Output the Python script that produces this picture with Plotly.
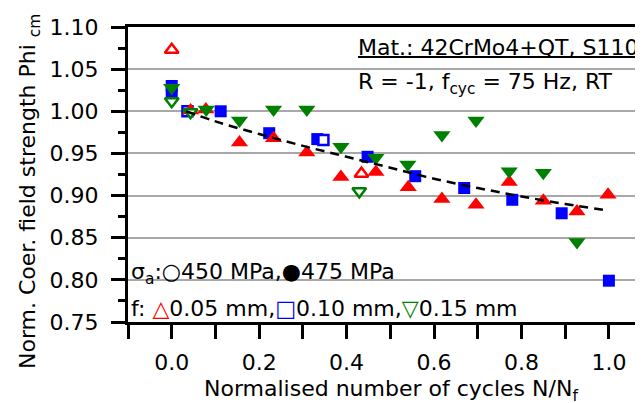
import plotly.graph_objects as go

# ---------------- data ----------------
# f = 0.05 mm (red, triangle-up)
red_475_x = [0.043, 0.078, 0.155, 0.233, 0.309, 0.387, 0.467, 0.541, 0.618, 0.696, 0.772, 0.850, 0.927, 0.998]
red_475_y = [1.001, 1.002, 0.963, 0.968, 0.951, 0.922, 0.928, 0.910, 0.896, 0.889, 0.916, 0.894, 0.881, 0.901]
red_450_x = [0.000, 0.434]
red_450_y = [1.073, 0.926]
# f = 0.10 mm (blue, square)
blue_475_x = [0.000, 0.000, 0.112, 0.223, 0.333, 0.448, 0.557, 0.669, 0.779, 0.892, 1.000]
blue_475_y = [1.030, 1.022, 1.000, 0.974, 0.967, 0.946, 0.923, 0.909, 0.895, 0.879, 0.799]
blue_450_x = [0.036, 0.347]
blue_450_y = [1.000, 0.966]
# f = 0.15 mm (green, triangle-down)
green_475_x = [0.000, 0.079, 0.155, 0.233, 0.309, 0.387, 0.467, 0.540, 0.618, 0.696, 0.772, 0.850, 0.927]
green_475_y = [1.028, 1.002, 0.989, 1.002, 1.002, 0.958, 0.945, 0.937, 0.972, 0.989, 0.929, 0.927, 0.845]
green_450_x = [0.000, 0.043, 0.429]
green_450_y = [1.012, 0.999, 0.905]
# dashed trend
fit_x = [0.033, 0.1, 0.2, 0.3, 0.4, 0.5, 0.6, 0.7, 0.8, 0.9, 1.0]
fit_y = [1.000, 0.988, 0.973, 0.959, 0.946, 0.933, 0.920, 0.909, 0.899, 0.890, 0.882]

x_tick_vals = [0.0, 0.2, 0.4, 0.6, 0.8, 1.0]
x_tick_text = ["0.0", "0.2", "0.4", "0.6", "0.8", "1.0"]
x_minor_vals = [-0.1, 0.1, 0.3, 0.5, 0.7, 0.9]

RED, BLUE, GREEN = "#ff0000", "#0000ff", "#008000"

# ---------------- figure ----------------
# the page body has an 8 px margin, so the figure starts at page (8, 8)
OFF = 8
W, H = 643 - OFF, 403 - OFF
L, R, T, B = 128 - OFF, 0, 27 - OFF, 403 - 322
PW, PH = W - L - R, H - T - B


def px(xp):  # page pixel -> paper x
    return (xp - OFF - L) / PW


def py(yp):  # page pixel -> paper y
    return (H - B - (yp - OFF)) / PH


fig = go.Figure()


def add(x, y, symbol, color, size, hollow):
    if hollow:
        marker = dict(symbol=symbol, size=size, color="white", line=dict(color=color, width=2.5))
    else:
        marker = dict(symbol=symbol, size=size, color=color, line=dict(width=0))
    fig.add_trace(go.Scatter(x=x, y=y, mode="markers", marker=marker, showlegend=False,
                             cliponaxis=False, hoverinfo="x+y"))


add(blue_475_x, blue_475_y, "square", BLUE, 12, False)
add(blue_450_x, blue_450_y, "square", BLUE, 10, True)
add(red_475_x, red_475_y, "triangle-up", RED, 15, False)
add(red_450_x, red_450_y, "triangle-up", RED, 12, True)
add(green_475_x, green_475_y, "triangle-down", GREEN, 15, False)
add(green_450_x, green_450_y, "triangle-down", GREEN, 12, True)

fig.add_trace(go.Scatter(x=fit_x, y=fit_y, mode="lines", line=dict(color="black", width=2.5, dash="9px,6px"),
                         line_shape="spline", showlegend=False, hoverinfo="skip"))

FONT = "DejaVu Sans, Liberation Sans, Arial, sans-serif"
FS = 22
fig.update_layout(
    width=W, height=H,
    margin=dict(l=L, r=R, t=T, b=B, autoexpand=False),
    paper_bgcolor="white", plot_bgcolor="white",
    font=dict(family=FONT, size=FS, color="black"),
    showlegend=False,
)

fig.update_xaxes(
    range=[-0.1, 1.078], tickvals=x_tick_vals, ticktext=x_tick_text,
    ticks="outside", ticklen=14, tickwidth=2.5, tickcolor="black",
    minor=dict(tickvals=x_minor_vals, ticks="outside", ticklen=14, tickwidth=2.5,
               tickcolor="black", showgrid=False),
    showline=True, linewidth=3, linecolor="black", mirror=True,
    showgrid=False, zeroline=False, ticklabelstandoff=5, automargin=False,
)
fig.update_yaxes(
    range=[0.75, 1.10], tick0=0.75, dtick=0.05, tickformat=".2f",
    ticks="outside", ticklen=14, tickwidth=2.5, tickcolor="black",
    minor=dict(tick0=0.75, dtick=0.025, ticks="outside", ticklen=7, tickwidth=2.5,
               tickcolor="black", showgrid=False),
    showline=True, linewidth=3, linecolor="black", mirror=False,
    showgrid=True, gridcolor="#a8a8a8", gridwidth=1.5, zeroline=False,
    ticklabelstandoff=8, automargin=False,
)

# white boxes that hide the grid behind the text blocks
fig.add_shape(type="rect", xref="paper", yref="paper", x0=px(352), x1=1.0, y0=py(96), y1=py(29),
              fillcolor="white", line=dict(width=0), layer="between")
fig.add_shape(type="rect", xref="paper", yref="paper", x0=px(131), x1=px(520), y0=py(320), y1=py(256),
              fillcolor="white", line=dict(width=0), layer="between")
# underline of the material line
fig.add_shape(type="line", xref="paper", yref="paper", x0=px(358), x1=1.0, y0=py(57), y1=py(57),
              line=dict(color="black", width=2))

# axis titles
fig.add_annotation(xref="paper", yref="paper", x=px(391), y=py(374), xanchor="center", yanchor="top",
                   text="Normalised number of cycles N/N<sub>f</sub>", showarrow=False)
fig.add_annotation(xref="paper", yref="paper", x=px(29), y=py(192), xanchor="center", yanchor="middle",
                   textangle=-90, text="Norm. Coer. field strength Phi <sub>cm</sub>", showarrow=False)

# condition texts
fig.add_annotation(xref="paper", yref="paper", x=px(356), y=py(33), xanchor="left", yanchor="top",
                   text="Mat.: 42CrMo4+QT, S110", showarrow=False)
fig.add_annotation(xref="paper", yref="paper", x=px(356), y=py(67), xanchor="left", yanchor="top",
                   text="R = -1, f<sub>cyc</sub> = 75 Hz, RT", showarrow=False)

sym = "font-weight:bold"
fig.add_annotation(xref="paper", yref="paper", x=px(129), y=py(257), xanchor="left", yanchor="top",
                   text=f"σ<sub>a</sub>:<span style='{sym}'>○</span>450 MPa,<span style='{sym}'>●</span>475 MPa",
                   showarrow=False)
fig.add_annotation(xref="paper", yref="paper", x=px(129), y=py(294), xanchor="left", yanchor="top",
                   text=(f"f: <span style='{sym};color:{RED}'>△</span>0.05 mm,"
                         f"<span style='{sym};color:{BLUE}'>□</span>0.10 mm,"
                         f"<span style='{sym};color:{GREEN}'>▽</span>0.15 mm"),
                   showarrow=False)

fig.write_html("out.html")
